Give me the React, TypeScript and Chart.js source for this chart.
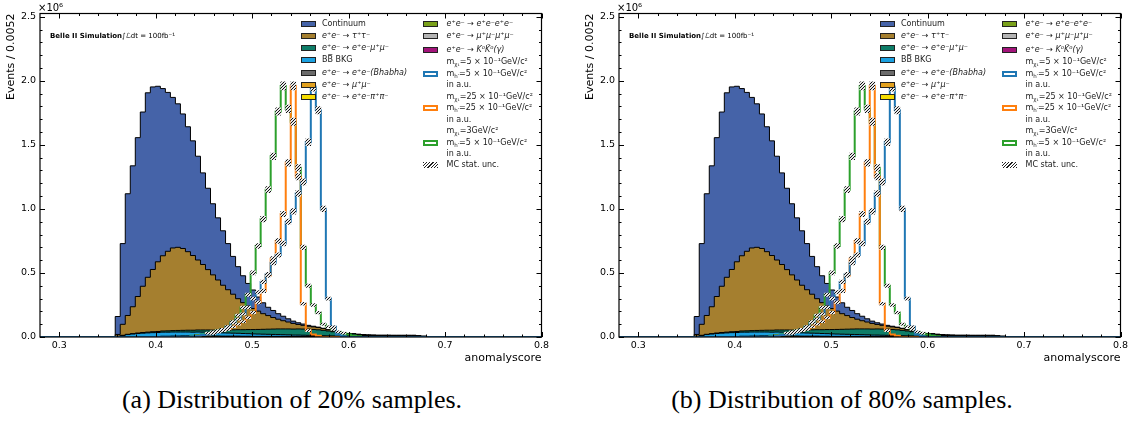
import React, { useEffect, useRef } from 'react';
import { Chart, registerables } from 'chart.js';

Chart.register(...registerables);

// ---------------- binning / axes ----------------
const X_MIN = 0.28;
const X_MAX = 0.8;
const N_BINS = 100;
const BIN_W = (X_MAX - X_MIN) / N_BINS; // 0.0052
const Y_MAX = 2.525; // in units of 10^6

const X_TICKS = [0.3, 0.4, 0.5, 0.6, 0.7, 0.8];
const X_MINOR_TICKS = [0.32, 0.34, 0.36, 0.38, 0.42, 0.44, 0.46, 0.48, 0.52, 0.54, 0.56, 0.58, 0.62, 0.64, 0.66, 0.68, 0.72, 0.74, 0.76, 0.78];
const Y_TICKS = [0, 0.5, 1.0, 1.5, 2.0, 2.5];
const Y_MINOR_TICKS = [0.1, 0.2, 0.3, 0.4, 0.6, 0.7, 0.8, 0.9, 1.1, 1.2, 1.3, 1.4, 1.6, 1.7, 1.8, 1.9, 2.1, 2.2, 2.3, 2.4];

// ---------------- background yields (x10^6 events / bin) ----------------
const CONTINUUM_START = 15;
const CONTINUUM = [
  0.14, 0.63, 0.95, 1.10, 1.24, 1.36, 1.44, 1.425, 1.37, 1.305,
  1.24, 1.175, 1.12, 1.05, 0.975, 0.895, 0.81, 0.715, 0.635, 0.555,
  0.485, 0.425, 0.36, 0.295, 0.25, 0.21, 0.175, 0.145, 0.11, 0.085,
  0.065, 0.055, 0.043, 0.035, 0.025, 0.018, 0.013, 0.01, 0.007, 0.005,
  0.003, 0.002, 0.002, 0.002, 0.002, 0.002, 0.002, 0.002, 0.002, 0.002,
  0.002, 0.002, 0.002, 0.002, 0.002, 0.001, 0.001, 0.001, 0.001, 0.001,
];
const TAUTAU_START = 15;
const TAUTAU = [
  0.015, 0.086, 0.147, 0.21, 0.285, 0.361, 0.428, 0.486, 0.544, 0.587,
  0.621, 0.645, 0.649, 0.639, 0.613, 0.583, 0.546, 0.511, 0.471, 0.431,
  0.391, 0.35, 0.314, 0.278, 0.242, 0.211, 0.185, 0.164, 0.143, 0.122,
  0.106, 0.09, 0.076, 0.064, 0.054, 0.044, 0.035, 0.029, 0.023, 0.02,
  0.018, 0.014, 0.009, 0.005, 0.002, 0.002, 0.002, 0.001, 0.001, 0.001,
];
const EEMUMU_START = 16;
const EEMUMU = [
  0.001, 0.002, 0.003, 0.004, 0.005, 0.006, 0.007, 0.008, 0.009,
  0.01, 0.011, 0.012, 0.013, 0.014, 0.015, 0.016, 0.017, 0.018, 0.019,
  0.02, 0.022, 0.024, 0.026, 0.028, 0.03, 0.032, 0.034, 0.036, 0.038,
  0.04, 0.042, 0.044, 0.045, 0.046, 0.047, 0.048, 0.048, 0.048, 0.047,
  0.045, 0.042, 0.038, 0.033, 0.028, 0.022, 0.016, 0.011, 0.007, 0.004,
  0.002, 0.001,
];
const BBBAR_START = 15;
const BBBAR = [
  0.004, 0.01, 0.016, 0.02, 0.024, 0.027, 0.029, 0.03, 0.031, 0.032,
  0.032, 0.032, 0.032, 0.031, 0.031, 0.03, 0.03, 0.029, 0.028, 0.027,
  0.026, 0.025, 0.024, 0.023, 0.022, 0.021, 0.02, 0.019, 0.018, 0.017,
  0.016, 0.015, 0.014, 0.013, 0.012, 0.011, 0.01, 0.009, 0.008, 0.007,
  0.006, 0.005, 0.004, 0.003, 0.002, 0.001,
];
const BHABHA_START = 15;
const BHABHA = [
  0.001, 0.002, 0.003, 0.003, 0.003, 0.003, 0.003, 0.003, 0.003, 0.003,
  0.003, 0.003, 0.003, 0.003, 0.003, 0.003, 0.004, 0.004, 0.004, 0.004,
  0.004, 0.004, 0.004, 0.004, 0.004, 0.004, 0.004, 0.004, 0.004, 0.004,
  0.004, 0.004, 0.004, 0.004, 0.004, 0.004, 0.005, 0.005, 0.005, 0.005,
  0.005, 0.005, 0.005, 0.005, 0.005, 0.005, 0.008, 0.012, 0.012, 0.012,
  0.012, 0.012, 0.012, 0.012, 0.012, 0.012, 0.012, 0.012, 0.012, 0.012,
  0.008, 0.005, 0.002,
];
const MUMU_START = 22;
const MUMU = [0.001, 0.001, 0.002, 0.002, 0.002, 0.002, 0.002, 0.002, 0.002, 0.002, 0.002, 0.002, 0.001, 0.001, 0.001, 0.001, 0.001, 0.001, 0.001, 0.001];
const EEPIPI_START = 24;
const EEPIPI = [0.001, 0.001, 0.001, 0.001, 0.001, 0.001, 0.001, 0.001, 0.001, 0.001, 0.001, 0.001];
const EEEE_START = 28;
const EEEE = [0.001, 0.001, 0.001, 0.001, 0.001, 0.001, 0.001, 0.001, 0.001, 0.001, 0.001, 0.001];
const MU4_START = 34;
const MU4 = [0.001, 0.001, 0.001, 0.001, 0.001, 0.001, 0.001, 0.001, 0.001, 0.001, 0.001, 0.001, 0.001, 0.001, 0.001, 0.001];
const KK_START = 26;
const KK = [0.001, 0.001, 0.001, 0.001, 0.001, 0.001, 0.001, 0.001];

// ---------------- signal shapes (a.u., x10^6 scale) ----------------
const SIG_A_START = 30; // m_chi1 = 0.5, m_h' = 0.5
const SIG_A = [0.005, 0.01, 0.015, 0.02, 0.03, 0.04, 0.06, 0.08, 0.11, 0.14, 0.18, 0.23, 0.30, 0.35, 0.43, 0.49, 0.58, 0.64, 0.73, 0.90, 0.98, 1.12, 1.21, 1.52, 1.95, 1.77, 1.00, 0.30, 0.08, 0.02, 0.005];
const SIG_B_START = 31; // m_chi1 = 2.5, m_h' = 2.5
const SIG_B = [0.01, 0.015, 0.02, 0.03, 0.04, 0.05, 0.06, 0.08, 0.10, 0.12, 0.15, 0.19, 0.27, 0.36, 0.48, 0.61, 0.75, 0.96, 1.36, 1.96, 1.25, 0.26, 0.05, 0.02, 0.01];
const SIG_C_START = 30; // m_chi1 = 3, m_h' = 0.5
const SIG_C = [0.01, 0.015, 0.02, 0.03, 0.04, 0.05, 0.06, 0.08, 0.12, 0.17, 0.23, 0.33, 0.50, 0.71, 0.92, 1.15, 1.41, 1.76, 1.96, 1.78, 1.68, 1.32, 0.70, 0.40, 0.25, 0.19, 0.10, 0.08, 0.06, 0.04, 0.03, 0.02, 0.01, 0.005];
const SIG_UNC_SCALE = 0.022; // MC stat. unc. half-height = scale * sqrt(yield)
const SIG_UNC_MIN = 0.03;    // boxes only shown above this yield

// ---------------- labels / colours ----------------
const C_CONT = '#4563a8';
const C_TAU = '#a57f2f';
const C_EEMUMU = '#0e7d68';
const C_BB = '#1ba0e0';
const C_BHABHA = '#6b6b6b';
const C_MUMU = '#e2a11f';
const C_EEPIPI = '#f5dc00';
const C_EEEE = '#7aa11a';
const C_MU4 = '#b4b4b4';
const C_KK = '#a3137a';
const C_SIG_A = '#1f77b4';
const C_SIG_B = '#ff7f0e';
const C_SIG_C = '#2ca02c';

// stacking order bottom -> top
const BKG = [
  { label: 'e⁺e⁻→e⁺e⁻π⁺π⁻', color: C_EEPIPI, start: EEPIPI_START, values: EEPIPI },
  { label: 'e⁺e⁻→μ⁺μ⁻', color: C_MUMU, start: MUMU_START, values: MUMU },
  { label: 'e⁺e⁻→K⁰K̄⁰(γ)', color: C_KK, start: KK_START, values: KK },
  { label: 'e⁺e⁻→μ⁺μ⁻μ⁺μ⁻', color: C_MU4, start: MU4_START, values: MU4 },
  { label: 'e⁺e⁻→e⁺e⁻e⁺e⁻', color: C_EEEE, start: EEEE_START, values: EEEE },
  { label: 'e⁺e⁻→e⁺e⁻(Bhabha)', color: C_BHABHA, start: BHABHA_START, values: BHABHA },
  { label: 'BB̅ BKG', color: C_BB, start: BBBAR_START, values: BBBAR },
  { label: 'e⁺e⁻→e⁺e⁻μ⁺μ⁻', color: C_EEMUMU, start: EEMUMU_START, values: EEMUMU },
  { label: 'e⁺e⁻→τ⁺τ⁻', color: C_TAU, start: TAUTAU_START, values: TAUTAU },
  { label: 'Continuum', color: C_CONT, start: CONTINUUM_START, values: CONTINUUM },
];
const SIGNALS = [
  { label: 'signal A', color: C_SIG_A, start: SIG_A_START, values: SIG_A },
  { label: 'signal B', color: C_SIG_B, start: SIG_B_START, values: SIG_B },
  { label: 'signal C', color: C_SIG_C, start: SIG_C_START, values: SIG_C },
];

// ---------------- helpers ----------------
function toBins(start: number, values: number[]) {
  const a = new Array(N_BINS).fill(0);
  values.forEach((v, i) => { a[start + i] = v; });
  return a;
}
function stepPoints(bins: number[]) {
  const pts = bins.map((v, k) => ({ x: X_MIN + k * BIN_W, y: v }));
  pts.push({ x: X_MAX, y: bins[N_BINS - 1] });
  return pts;
}
function makeHatch() {
  const c = document.createElement('canvas');
  c.width = 3; c.height = 3;
  const g = c.getContext('2d')!;
  g.fillStyle = '#e8e8e8';
  g.fillRect(0, 0, 3, 3);
  g.strokeStyle = '#111111';
  g.lineWidth = 1;
  g.beginPath();
  g.moveTo(0, 3); g.lineTo(3, 0);
  g.moveTo(-1, 1); g.lineTo(1, -1);
  g.moveTo(2, 4); g.lineTo(4, 2);
  g.stroke();
  return g.createPattern(c, 'repeat');
}

const frameTicksPlugin = {
  id: 'frameTicks',
  afterDatasetsDraw(chart: any) {
    const { ctx, chartArea: a, scales } = chart;
    const xs = scales.x, ys = scales.y;
    ctx.save();
    ctx.strokeStyle = '#000';
    ctx.lineWidth = 1;
    ctx.beginPath();
    const vt = (v: number, len: number) => {
      const p = Math.round(xs.getPixelForValue(v)) + 0.5;
      ctx.moveTo(p, a.bottom); ctx.lineTo(p, a.bottom - len);
      ctx.moveTo(p, a.top); ctx.lineTo(p, a.top + len);
    };
    const ht = (v: number, len: number) => {
      const p = Math.round(ys.getPixelForValue(v)) + 0.5;
      ctx.moveTo(a.left, p); ctx.lineTo(a.left + len, p);
      ctx.moveTo(a.right, p); ctx.lineTo(a.right - len, p);
    };
    X_TICKS.forEach((v) => vt(v, 5));
    X_MINOR_TICKS.forEach((v) => vt(v, 2.5));
    Y_TICKS.forEach((v) => ht(v, 5));
    Y_MINOR_TICKS.forEach((v) => ht(v, 2.5));
    ctx.stroke();
    ctx.lineWidth = 1.2;
    ctx.strokeRect(a.left, a.top, a.right - a.left, a.bottom - a.top);
    ctx.restore();
  },
};

function buildConfig() {
  const hatch = makeHatch();
  const datasets: any[] = [];
  // hatch (MC stat. unc.) boxes on signals
  SIGNALS.forEach((s) => {
    const data: any[] = [];
    s.values.forEach((v, i) => {
      if (v >= SIG_UNC_MIN) {
        const u = Math.max(SIG_UNC_SCALE * Math.sqrt(v), 0.008);
        data.push({ x: X_MIN + (s.start + i + 0.5) * BIN_W, y: [v - u, v + u] });
      }
    });
    datasets.push({
      type: 'bar', label: 'MC stat. unc.', data, backgroundColor: hatch, borderWidth: 0,
      barPercentage: 1, categoryPercentage: 1, grouped: false,
    });
  });
  // signal step lines
  SIGNALS.forEach((s) => {
    datasets.push({
      type: 'line', label: s.label, data: stepPoints(toBins(s.start, s.values)),
      borderColor: s.color, borderWidth: 2, pointRadius: 0, stepped: true, fill: false,
    });
  });
  // stacked backgrounds (cumulative), bottom first so it is drawn on top
  const cum = new Array(N_BINS).fill(0);
  BKG.forEach((b) => {
    const bins = toBins(b.start, b.values);
    for (let k = 0; k < N_BINS; k++) cum[k] += bins[k];
    datasets.push({
      type: 'line', label: b.label, data: stepPoints(cum.slice()),
      borderColor: '#000', borderWidth: 1, backgroundColor: b.color, fill: 'origin',
      pointRadius: 0, stepped: true,
    });
  });

  const tickFont = { family: '"DejaVu Sans", sans-serif', size: 9.5 };
  const titleFont = { family: '"DejaVu Sans", sans-serif', size: 11 };
  return {
    type: 'line',
    data: { datasets },
    options: {
      animation: false,
      responsive: false,
      devicePixelRatio: 1,
      events: [],
      layout: { padding: { left: 0, right: 18.5, top: 13.5, bottom: 0 } },
      plugins: { legend: { display: false }, tooltip: { enabled: false } },
      scales: {
        x: {
          type: 'linear', min: X_MIN, max: X_MAX, offset: false,
          grid: { display: false, drawTicks: false, offset: false },
          border: { display: false },
          afterBuildTicks: (s: any) => { s.ticks = X_TICKS.map((v) => ({ value: v })); },
          afterFit: (s: any) => { s.height = 33; },
          ticks: { font: tickFont, color: '#000', padding: 3, maxRotation: 0, autoSkip: false, callback: (v: any) => Number(v).toFixed(1) },
          title: { display: true, text: 'anomalyscore', align: 'end', font: titleFont, color: '#000', padding: { top: 0, bottom: 5 } },
        },
        y: {
          type: 'linear', min: 0, max: Y_MAX,
          grid: { display: false, drawTicks: false },
          border: { display: false },
          afterBuildTicks: (s: any) => { s.ticks = Y_TICKS.map((v) => ({ value: v })); },
          afterFit: (s: any) => { s.width = 40; },
          ticks: { font: tickFont, color: '#000', padding: 4, autoSkip: false, callback: (v: any) => Number(v).toFixed(1) },
          title: { display: true, text: 'Events / 0.0052', align: 'end', font: titleFont, color: '#000', padding: { top: 5, bottom: 0 } },
        },
      },
    },
    plugins: [frameTicksPlugin],
  };
}

// ---------------- overlay text ----------------
const FONT = '"DejaVu Sans", sans-serif';
const TXT: React.CSSProperties = {
  position: 'absolute', fontFamily: FONT, fontSize: 8, lineHeight: '10px', color: '#1a1a1a', whiteSpace: 'nowrap',
};

function LText({ x, cy, italic, children }: any) {
  return <div style={{ ...TXT, left: x, top: cy - 5, fontStyle: italic ? 'italic' : 'normal' }}>{children}</div>;
}
function LPatch({ x, cy, style }: any) {
  return <div style={{ position: 'absolute', left: x, top: cy - 3, width: 15.5, height: 6, boxSizing: 'border-box', ...style }} />;
}
const solid = (c: string) => ({ background: c, border: '1.2px solid #222' });
const open = (c: string) => ({ background: '#fff', border: '2px solid ' + c });

function Mchi({ v }: { v: string }) {
  return <>m<span style={{ fontSize: 5.5, verticalAlign: -2 }}>χ₁</span>={v}GeV/c²</>;
}
function Mh({ v }: { v: string }) {
  return <>m<span style={{ fontSize: 5.5, verticalAlign: -2 }}>h′</span>={v}GeV/c²</>;
}

const SIG_A_MCHI = '5 × 10⁻¹';
const SIG_A_MH = '5 × 10⁻¹';
const SIG_B_MCHI = '25 × 10⁻¹';
const SIG_B_MH = '25 × 10⁻¹';
const SIG_C_MCHI = '3';
const SIG_C_MH = '5 × 10⁻¹';

function Overlay() {
  const c1p = 300.5, c1t = 322, c2p = 422.5, c2t = 446.5;
  const rows1 = [23.5, 35.6, 47.8, 60.3, 72.5, 84.8, 97.2];
  const col1 = [
    { c: C_CONT, t: 'Continuum', it: false },
    { c: C_TAU, t: 'e⁺e⁻ → τ⁺τ⁻', it: true },
    { c: C_EEMUMU, t: 'e⁺e⁻ → e⁺e⁻μ⁺μ⁻', it: true },
    { c: C_BB, t: 'BB̅ BKG', it: false },
    { c: C_BHABHA, t: 'e⁺e⁻ → e⁺e⁻(Bhabha)', it: true },
    { c: C_MUMU, t: 'e⁺e⁻ → μ⁺μ⁻', it: true },
    { c: C_EEPIPI, t: 'e⁺e⁻ → e⁺e⁻π⁺π⁻', it: true },
  ];
  const col2 = [
    { c: C_EEEE, t: 'e⁺e⁻ → e⁺e⁻e⁺e⁻', cy: 23.5 },
    { c: C_MU4, t: 'e⁺e⁻ → μ⁺μ⁻μ⁺μ⁻', cy: 35.7 },
    { c: C_KK, t: 'e⁺e⁻ → K⁰K̄⁰(γ)', cy: 49.5 },
  ];
  const sigs = [
    { c: C_SIG_A, mchi: SIG_A_MCHI, mh: SIG_A_MH, cy: 74.2 },
    { c: C_SIG_B, mchi: SIG_B_MCHI, mh: SIG_B_MH, cy: 108.3 },
    { c: C_SIG_C, mchi: SIG_C_MCHI, mh: SIG_C_MH, cy: 143 },
  ];
  return (
    <>
      <div style={{ ...TXT, fontSize: 10, left: 38, top: 2, lineHeight: '12px', color: '#000' }}>×10⁶</div>
      <div style={{ ...TXT, fontSize: 7, left: 50, top: 31, lineHeight: '10px', color: '#000' }}>
        <b>Belle II Simulation</b>∫ℒdt = 100fb⁻¹
      </div>
      {col1.map((e, i) => (
        <React.Fragment key={'a' + i}>
          <LPatch x={c1p} cy={rows1[i]} style={solid(e.c)} />
          <LText x={c1t} cy={rows1[i]} italic={e.it}>{e.t}</LText>
        </React.Fragment>
      ))}
      {col2.map((e, i) => (
        <React.Fragment key={'b' + i}>
          <LPatch x={c2p} cy={e.cy} style={solid(e.c)} />
          <LText x={c2t} cy={e.cy} italic>{e.t}</LText>
        </React.Fragment>
      ))}
      {sigs.map((s, i) => (
        <React.Fragment key={'s' + i}>
          <LPatch x={c2p} cy={s.cy} style={open(s.c)} />
          <LText x={c2t} cy={s.cy - 11.8}><Mchi v={s.mchi} /></LText>
          <LText x={c2t} cy={s.cy}><Mh v={s.mh} /></LText>
          <LText x={c2t} cy={s.cy + 11.2}>in a.u.</LText>
        </React.Fragment>
      ))}
      <LPatch x={c2p} cy={165} style={{ background: 'repeating-linear-gradient(135deg, #222 0px, #222 1px, #fff 1px, #fff 2.3px)' }} />
      <LText x={c2t} cy={165}>MC stat. unc.</LText>
    </>
  );
}

function Panel({ left }: { left: number }) {
  const ref = useRef<HTMLCanvasElement>(null);
  useEffect(() => {
    const chart = new Chart(ref.current as any, buildConfig() as any);
    return () => chart.destroy();
  }, []);
  return (
    <div style={{ position: 'absolute', left, top: 0, width: 560, height: 370 }}>
      <canvas ref={ref} width={560} height={370} style={{ position: 'absolute', left: 0, top: 0, width: 560, height: 370 }} />
      <Overlay />
    </div>
  );
}

const CAPTION_A = '(a) Distribution of 20% samples.';
const CAPTION_B = '(b) Distribution of 80% samples.';

export default function App() {
  const cap: React.CSSProperties = {
    position: 'absolute', top: 385, width: 500, textAlign: 'center',
    fontFamily: '"Liberation Serif", serif', fontSize: 26, lineHeight: '30px', color: '#000', whiteSpace: 'nowrap',
  };
  return (
    <div style={{ position: 'absolute', left: 0, top: 0, width: 1129, height: 421, background: '#fff', overflow: 'hidden' }}>
      <Panel left={0} />
      <Panel left={579} />
      <div style={{ ...cap, left: 292 - 250 }}>{CAPTION_A}</div>
      <div style={{ ...cap, left: 842 - 250 }}>{CAPTION_B}</div>
    </div>
  );
}
